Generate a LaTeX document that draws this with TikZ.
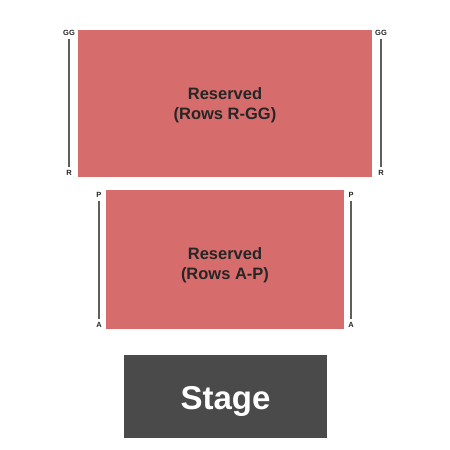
\documentclass[tikz,border=0pt]{standalone}
\usepackage{fontspec}
\setmainfont{Liberation Sans}
\definecolor{seat}{HTML}{D66C6C}
\definecolor{stagec}{HTML}{4A4A4A}
\definecolor{rowline}{HTML}{5E5E5E}
\begin{document}
\begin{tikzpicture}[x=1pt,y=-1pt,
  sect/.style={fill=seat,draw=none},
  sectlabel/.style={font=\bfseries\fontsize{16.5}{20}\selectfont,align=center,text=black!85},
  rowlab/.style={font=\bfseries\fontsize{7.5}{9}\selectfont,text=black!85,inner sep=0pt},
  rowbar/.style={draw=rowline,line width=1.4pt}]
\useasboundingbox (0,0) rectangle (450,450);
\fill[white] (0,0) rectangle (450,450);
% top section
\path[sect] (78,30) rectangle (372,177);
\node[sectlabel] (topl) at (225,105) {Reserved\\(Rows R-GG)};
% bottom section
\path[sect] (106,190) rectangle (344,329);
\node[sectlabel] (botl) at (225,265) {Reserved\\(Rows A-P)};
% stage
\path[fill=stagec] (124,355) rectangle (327,438);
\node[font=\bfseries\fontsize{33}{38}\selectfont,text=white] (stage) at (225.5,401) {Stage};
% row labels top
\node[rowlab] (gg1) at (69,33) {GG};
\node[rowlab] (r1) at (69,173) {R};
\node[rowlab] (gg2) at (381,33) {GG};
\node[rowlab] (r2) at (381,173) {R};
\draw[rowbar] ([yshift=-3pt]gg1.south) -- ([yshift=3pt]r1.north);
\draw[rowbar] ([yshift=-3pt]gg2.south) -- ([yshift=3pt]r2.north);
% row labels bottom
\node[rowlab] (p1) at (99,195) {P};
\node[rowlab] (a1) at (99,325) {A};
\node[rowlab] (p2) at (351,195) {P};
\node[rowlab] (a2) at (351,325) {A};
\draw[rowbar] ([yshift=-3pt]p1.south) -- ([yshift=3pt]a1.north);
\draw[rowbar] ([yshift=-3pt]p2.south) -- ([yshift=3pt]a2.north);
\end{tikzpicture}
\end{document}
